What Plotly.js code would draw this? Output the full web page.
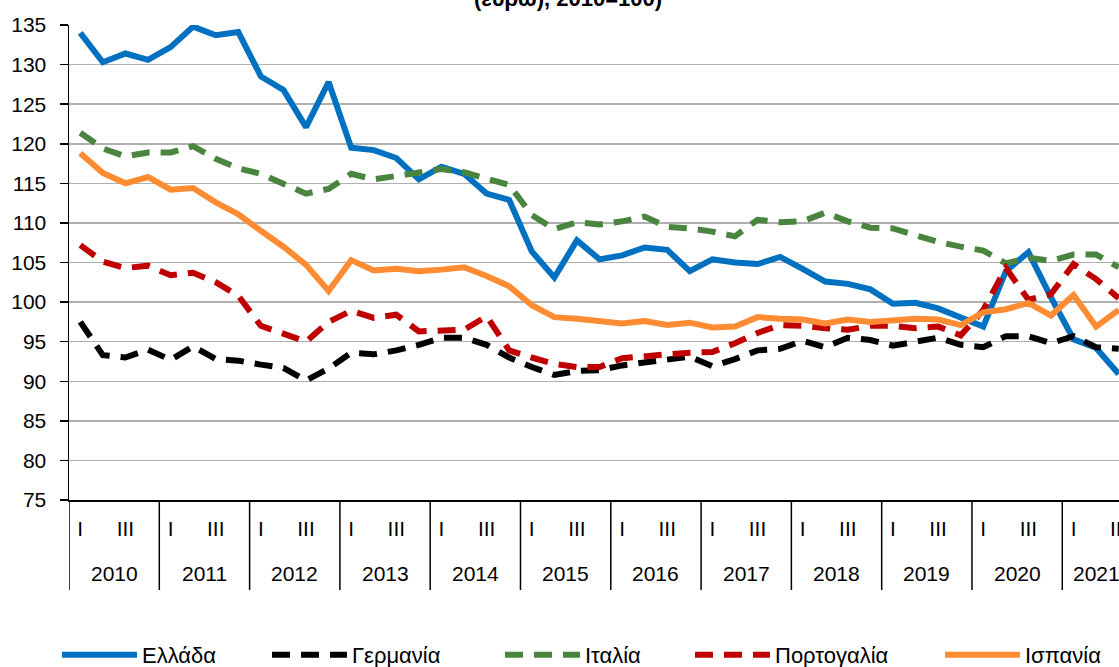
<!DOCTYPE html>
<html>
<head>
<meta charset="utf-8">
<script src="https://cdn.plot.ly/plotly-3.0.1.min.js"></script>
<style>
html,body{margin:0;padding:0;overflow:hidden;background:#fff;width:1119px;height:667px}
#chart{width:1138px;height:667px}
</style>
</head>
<body>
<div id="chart"></div>
<script>
// ---- data (quarterly, 2010 Q1 -> 2021 Q3) ----
const years = ['2010','2011','2012','2013','2014','2015','2016','2017','2018','2019','2020','2021'];
const quarterLabels = ['I','','III',''];
const seriesNames = ['Ελλάδα','Γερμανία','Ιταλία','Πορτογαλία','Ισπανία'];

const greece = [134.0,130.3,131.4,130.6,132.2,134.8,133.7,134.1,128.5,126.8,122.1,127.8,
  119.5,119.2,118.2,115.5,117.1,116.2,113.7,112.9,106.4,103.1,107.8,105.4,
  105.9,106.9,106.6,103.9,105.4,105.0,104.8,105.7,104.2,102.6,102.3,101.6,
  99.8,99.9,99.2,98.0,96.9,103.9,106.3,100.6,95.3,94.2,90.9];
const germany = [97.5,93.3,93.0,94.0,92.7,94.4,92.8,92.6,92.1,91.7,90.1,91.6,
  93.6,93.4,93.9,94.6,95.5,95.5,94.6,93.0,91.8,90.8,91.3,91.4,
  92.0,92.4,92.8,93.1,91.9,92.8,93.9,94.1,95.1,94.3,95.5,95.2,
  94.5,95.0,95.5,94.6,94.3,95.7,95.7,94.8,95.7,94.3,94.1];
const italy = [121.4,119.4,118.4,118.9,118.9,119.7,118.1,116.9,116.2,115.0,113.7,114.3,
  116.2,115.5,115.9,116.4,116.8,116.4,115.6,114.8,111.0,109.2,110.1,109.8,
  110.2,110.8,109.5,109.3,108.9,108.3,110.4,110.1,110.2,111.3,110.2,109.4,
  109.3,108.4,107.6,107.0,106.5,104.9,105.6,105.2,106.0,106.0,104.4];
const portugal = [107.2,105.1,104.3,104.6,103.4,103.7,102.5,100.8,97.0,96.0,95.0,97.5,
  98.9,98.0,98.4,96.3,96.4,96.5,98.2,93.9,93.0,92.2,91.8,91.8,
  92.9,93.2,93.4,93.6,93.7,94.8,96.1,97.1,97.0,96.7,96.5,97.0,
  97.0,96.7,96.9,95.8,99.0,104.3,100.3,101.0,104.8,102.9,100.5];
const spain = [118.8,116.3,115.0,115.8,114.2,114.4,112.6,111.1,109.0,107.0,104.7,101.4,
  105.3,104.0,104.2,103.9,104.1,104.4,103.3,102.0,99.6,98.1,97.9,97.6,
  97.3,97.6,97.1,97.4,96.8,96.9,98.1,97.9,97.8,97.3,97.8,97.5,
  97.7,97.9,97.8,97.1,98.7,99.1,99.9,98.3,100.9,96.9,99.0];

const seriesValues = [greece, germany, italy, portugal, spain];
const seriesColors = ['#0070C0','#000000','#4A8540','#C00000','#FF8C33'];
const seriesDash = ['solid','18px,11px','18px,11px','18px,11px','solid'];
const legendLeft = [57, 267, 500, 690, 940];   // left edge of each legend entry (px)

// ---- build ----
const W = 1138, H = 667;
const nQuarters = greece.length;
const qIdx = Array.from({length: nQuarters}, (_, i) => i);
const tickText = qIdx.map(i => quarterLabels[i % 4]);
const legendIds = seriesNames.map((_, s) => s === 0 ? 'legend' : 'legend' + (s + 1));

const traces = seriesValues.map((vals, s) => ({
  type: 'scatter',
  mode: 'lines',
  name: seriesNames[s],
  legend: legendIds[s],
  x: vals.map((_, i) => i),
  y: vals,
  line: {color: seriesColors[s], width: 6, dash: seriesDash[s]},
  hoverinfo: 'skip'
}));

const FONT = 'Arial, "Liberation Sans", sans-serif';
const plotH = H - 25 - 167;

const annotations = years.map((yr, k) => {
  const first = k * 4;
  const last = Math.min(first + 3, nQuarters - 1);
  return {
    x: (first + last) / 2, xref: 'x',
    y: -73 / plotH, yref: 'paper',
    text: yr, showarrow: false,
    xanchor: 'center', yanchor: 'middle',
    font: {family: FONT, size: 21, color: '#000'}
  };
});

const shapes = [];
for (let k = 0; k <= years.length; k++) {
  shapes.push({
    type: 'line', xref: 'x', yref: 'paper',
    x0: k * 4 - 0.5, x1: k * 4 - 0.5, y0: 0, y1: -90 / plotH,
    line: {color: '#000', width: 1.5}
  });
}

const layout = {
  width: W, height: H, autosize: false,
  margin: {l: 69, r: 8, t: 25, b: 167, pad: 0},
  paper_bgcolor: '#fff', plot_bgcolor: '#fff',
  font: {family: FONT, size: 21, color: '#000'},
  title: {
    text: '(ευρώ), 2010=100)',
    font: {family: FONT, size: 22, color: '#000', weight: 'bold'},
    xref: 'container', x: 568 / W, xanchor: 'center',
    yref: 'container', y: 1 - 6 / H, yanchor: 'bottom',
    automargin: false
  },
  xaxis: {
    range: [-0.5, nQuarters - 0.5],
    tickmode: 'array', tickvals: qIdx, ticktext: tickText,
    ticks: '', showgrid: false, zeroline: false,
    showline: true, linecolor: '#000', linewidth: 1.5,
    tickfont: {family: FONT, size: 21, color: '#000'},
    ticklabelstandoff: 9,
    automargin: false,
    fixedrange: true
  },
  yaxis: {
    range: [75, 135], dtick: 5, tick0: 75,
    ticks: 'outside', ticklen: 8, tickwidth: 1.5, tickcolor: '#000',
    showline: true, linecolor: '#000', linewidth: 1.5,
    showgrid: true, gridcolor: '#B0B0B0', gridwidth: 1.5,
    zeroline: false,
    tickfont: {family: FONT, size: 21, color: '#000'},
    ticklabelstandoff: 9,
    automargin: false,
    fixedrange: true
  },
  showlegend: true,
  annotations: annotations,
  shapes: shapes
};

legendIds.forEach((id, s) => {
  layout[id] = {
    orientation: 'h',
    xref: 'container', x: legendLeft[s] / W, xanchor: 'left',
    yref: 'container', y: 1 - 655 / H, yanchor: 'middle',
    font: {family: FONT, size: 22, color: '#000'},
    itemwidth: 75,
    bgcolor: 'rgba(0,0,0,0)'
  };
});

Plotly.newPlot('chart', traces, layout, {displayModeBar: false, staticPlot: true});
</script>
</body>
</html>
